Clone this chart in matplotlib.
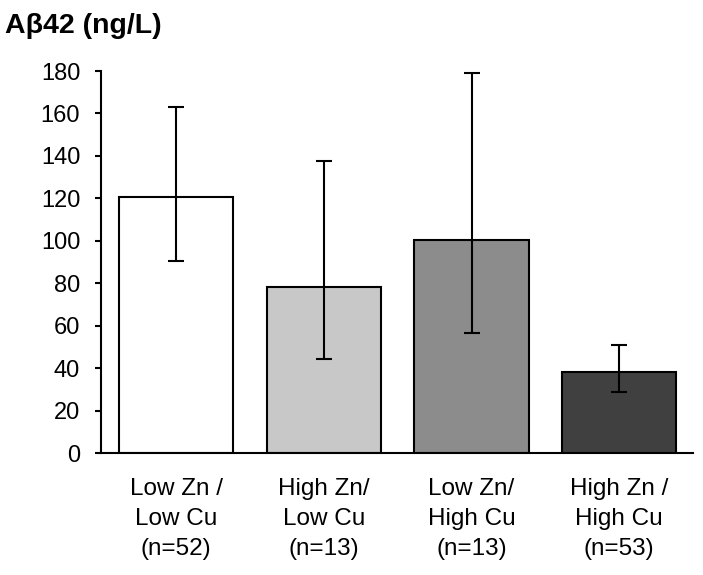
import matplotlib.pyplot as plt
import numpy as np

plt.rcParams['font.family'] = ['Liberation Sans', 'DejaVu Sans']

# Data
groups = ['Low Zn /\nLow Cu\n(n=52)', 'High Zn/\nLow Cu\n(n=13)',
          'Low Zn/\nHigh Cu\n(n=13)', 'High Zn /\nHigh Cu\n(n=53)']
means = [120.8, 78.3, 100.3, 38.2]
err_low = [90.4, 44.4, 56.8, 28.7]
err_high = [163.2, 137.6, 179.2, 50.8]
colors = ['#ffffff', '#c8c8c8', '#8c8c8c', '#404040']

fig = plt.figure(figsize=(7.03, 5.75), dpi=100)
ax = fig.add_axes([0.1437, 0.2117, 0.8421, 0.6648])

x = np.arange(len(groups))
yerr = [np.array(means) - np.array(err_low), np.array(err_high) - np.array(means)]
ax.bar(x, means, width=0.774, color=colors, edgecolor='black', linewidth=1.5, zorder=2)
ax.errorbar(x, means, yerr=yerr, fmt='none', ecolor='black', elinewidth=1.5,
            capsize=5.8, capthick=1.5, zorder=3)

ax.set_xlim(-0.51, 3.5)
ax.set_ylim(0, 180)
ax.set_yticks(np.arange(0, 181, 20))
ax.set_xticks(x)
ax.set_xticklabels(groups, linespacing=1.45)

for s in ['top', 'right']:
    ax.spines[s].set_visible(False)
for s in ['left', 'bottom']:
    ax.spines[s].set_linewidth(1.5)

ax.tick_params(axis='y', labelsize=17, length=4, width=1.5, direction='out', pad=11)
ax.tick_params(axis='x', labelsize=17.5, length=0, pad=18)

fig.text(0.007, 1 - 33 / 575, 'A\u03b242 (ng/L)', fontsize=20.5, fontweight='bold',
         va='baseline', ha='left')

fig.savefig('out.png', dpi=100)
